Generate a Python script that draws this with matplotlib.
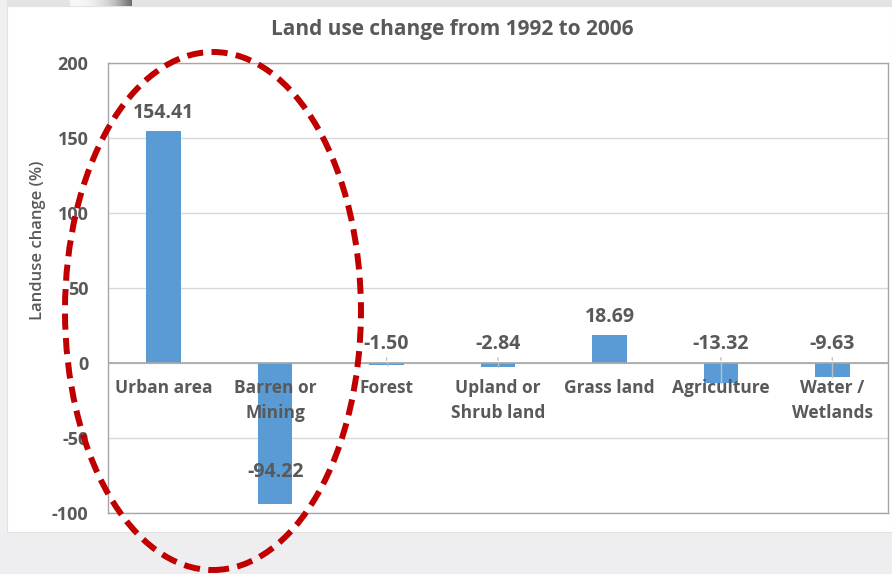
import numpy as np
import matplotlib
matplotlib.use("Agg")
import matplotlib.pyplot as plt
from matplotlib.patches import Ellipse, Rectangle

categories = ["Urban area", "Barren or\nMining", "Forest", "Upland or\nShrub land",
              "Grass land", "Agriculture", "Water /\nWetlands"]
changes = [154.41, -94.22, -1.50, -2.84, 18.69, -13.32, -9.63]
y_ticks = [-100, -50, 0, 50, 100, 150, 200]

title = "Land use change from 1992 to 2006"
y_label = "Landuse change (%)"

W, H = 892, 574
TEXT = "#595959"
BAR = "#5B9BD5"

plt.rcParams["font.family"] = ["Open Sans", "DejaVu Sans"]

fig = plt.figure(figsize=(W / 100, H / 100), dpi=100)
fig.patch.set_facecolor("#eeeef0")


def px_rect(x0, y0, x1, y1, **kw):
    # rectangle given in pixel coords from the top-left corner
    r = Rectangle((x0 / W, 1 - y1 / H), (x1 - x0) / W, (y1 - y0) / H,
                  transform=fig.transFigure, **kw)
    fig.add_artist(r)
    return r


# screenshot frame around the chart card
px_rect(0, 0, W, 6, facecolor="#e4e4e4", edgecolor="none", zorder=0)
px_rect(0, 0, 7, 532, facecolor="#f0f0f0", edgecolor="none", zorder=0)
grad = np.linspace(0, 1, 64)[None, :] ** 2
gax = fig.add_axes([70 / W, 1 - 6 / H, 62 / W, 6 / H], zorder=0)
gax.imshow(grad, cmap="Greys", vmin=-0.1, vmax=1.6, aspect="auto")
gax.axis("off")
px_rect(7, 6, W, 532, facecolor="white", edgecolor="#e2e2e2", linewidth=0.8, zorder=0)

ax = fig.add_axes([108 / W, 1 - 513 / H, 780 / W, 450 / H])
ax.set_facecolor("none")
x = np.arange(len(categories))
ax.bar(x, changes, width=0.31, color=BAR, zorder=3)

ax.set_xlim(-0.5, len(categories) - 0.5)
ax.set_ylim(-100, 200)
ax.set_yticks(y_ticks)
ax.set_yticklabels([str(t) for t in y_ticks], fontsize=13, fontweight="bold", color=TEXT)
ax.tick_params(axis="y", length=0, pad=14)
ax.set_xticks([])
ax.grid(axis="y", color="#d9d9d9", linewidth=1, zorder=0)
for s in ax.spines.values():
    s.set_color("#a6a6a6")
    s.set_linewidth(1)
ax.axhline(0, color="#a6a6a6", linewidth=1.2, zorder=4)

# category names sit just under the zero line
for xi, name in zip(x, categories):
    ax.annotate(name, (xi, 0), xytext=(0, -16), textcoords="offset pixels",
                ha="center", va="top", fontsize=12.5, fontweight="bold",
                color=TEXT, linespacing=1.5, zorder=5)

# value labels
for xi, v in zip(x, changes):
    if v >= 0:
        anchor, off = v, 18
    elif v > -50:
        anchor, off = 0, 19
        ax.plot([xi, xi], [0.0, v], color="#bfbfbf", linewidth=1, zorder=4)
        ax.annotate("", (xi, 0), xytext=(0, 8), textcoords="offset pixels",
                    arrowprops=dict(arrowstyle="-", color="#bfbfbf", lw=1))
    else:
        anchor, off = v, 32
    ax.annotate(f"{v:.2f}", (xi, anchor), xytext=(0, off), textcoords="offset pixels",
                ha="center", va="center", fontsize=14, fontweight="bold",
                color=TEXT, zorder=5)

fig.text(452 / W, 1 - 30 / H, title, ha="center", va="center",
         fontsize=15, fontweight="bold", color=TEXT)
fig.text(38 / W, 1 - 240 / H, y_label, ha="center", va="center", rotation=90,
         fontsize=12, fontweight="semibold", color=TEXT)

# dashed highlight ellipse around the first two categories
ell = Ellipse((213 / W, 1 - 311 / H), 296 / W, 518 / H, transform=fig.transFigure,
              fill=False, edgecolor="#C00000", linewidth=4.3,
              linestyle=(0, (2.7, 1.4)), zorder=10)
fig.add_artist(ell)

fig.savefig("out.png", dpi=100, facecolor=fig.get_facecolor())
